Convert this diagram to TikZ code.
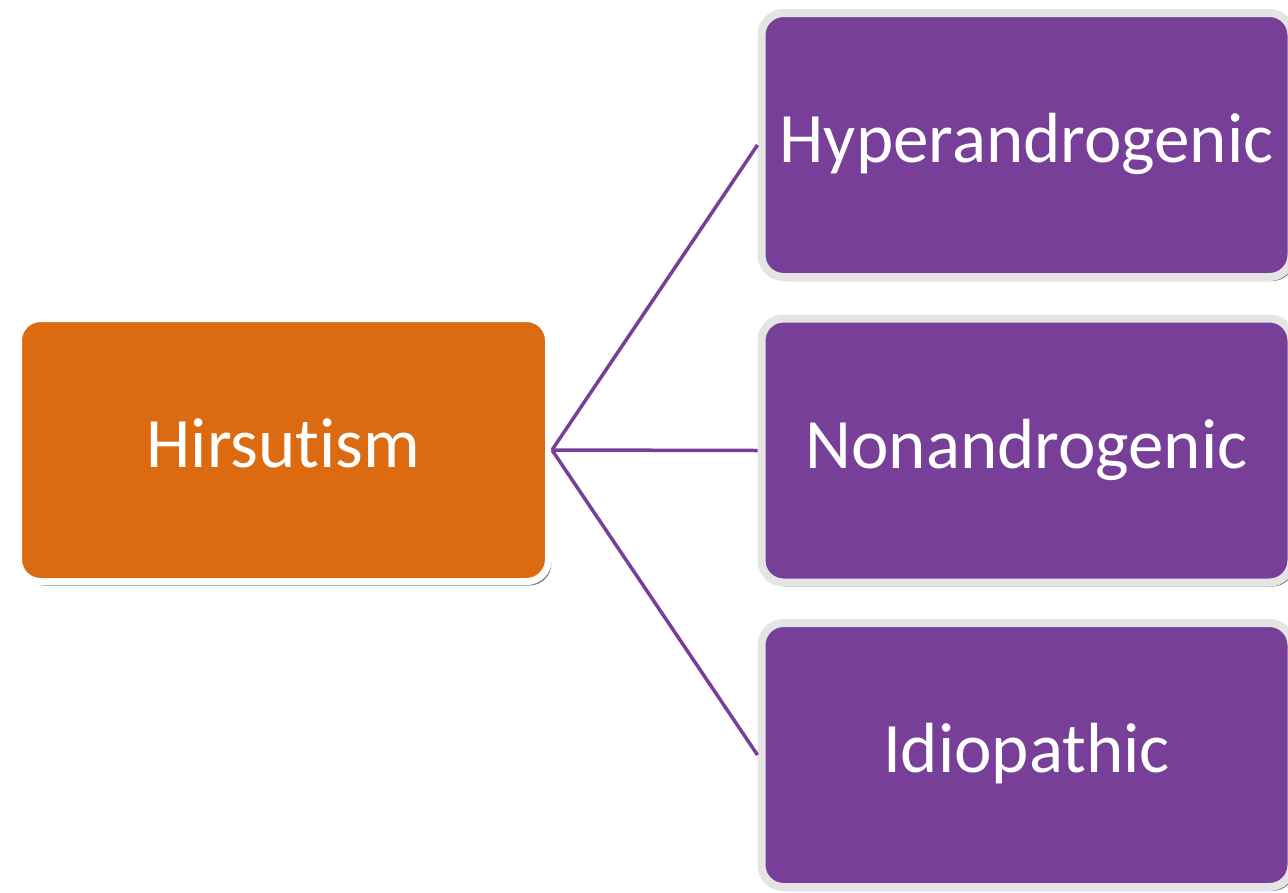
\documentclass[tikz,border=0pt]{standalone}
\usepackage{fontspec}
\setmainfont{Carlito}[Ligatures=NoCommon]
\usetikzlibrary{shadows}

\definecolor{hirsorange}{HTML}{DC6A10}
\definecolor{causepurple}{HTML}{783F98}
\definecolor{causeborder}{HTML}{E4E4E4}

\begin{document}
\begin{tikzpicture}[x=1pt, y=-1pt,
    box/.style={rectangle, rounded corners=22pt, text=white,
        font=\fontsize{71}{84}\selectfont, text height=53pt, text depth=18pt,
        minimum width=530pt, minimum height=264pt,
        drop shadow={shadow xshift=3pt, shadow yshift=-4pt, fill=black, opacity=.5}},
    link/.style={draw=causepurple, line width=3.5pt}]

    \useasboundingbox (0,0) rectangle (1288,892);

    \node[box, fill=hirsorange, draw=white, line width=7pt,
        minimum height=263pt] (hirs) at (283.5,450) {Hirsutism};

    \node[box, fill=causepurple, draw=causeborder, line width=8pt] (hyper) at (1026.5,145) {Hyperandrogenic};
    \node[box, fill=causepurple, draw=causeborder, line width=8pt] (nonandro) at (1026.5,450.5) {Nonandrogenic};
    \node[box, fill=causepurple, draw=causeborder, line width=8pt] (idio) at (1026.5,755) {Idiopathic};

    \draw[link] (hirs.east) -- (hyper.west);
    \draw[link] (hirs.east) -- (nonandro.west);
    \draw[link] (hirs.east) -- (idio.west);

\end{tikzpicture}
\end{document}
